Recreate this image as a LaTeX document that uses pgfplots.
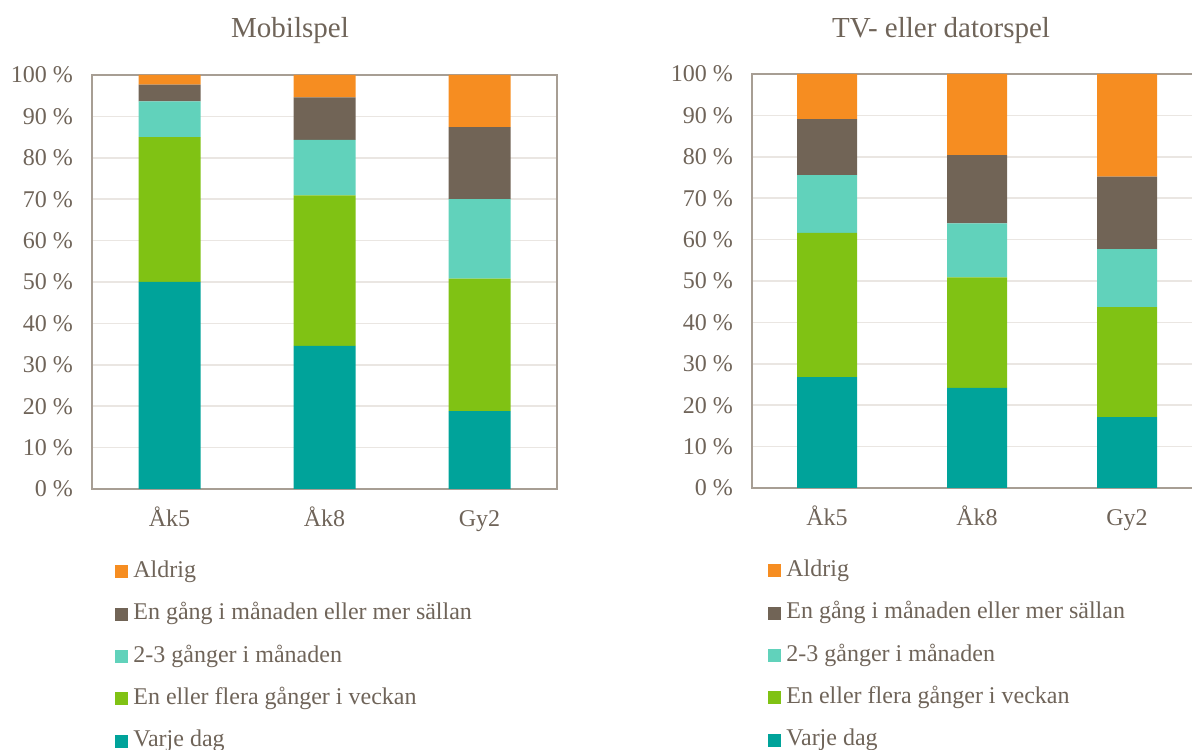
\documentclass[border=0pt]{standalone}
\usepackage{fontspec}
\setmainfont{Liberation Serif}
\usepackage{pgfplots}
\usepackage{pgfplotstable}
\pgfplotsset{compat=1.18}
\definecolor{txt}{HTML}{6F6459}
\definecolor{axc}{HTML}{A79E94}
\definecolor{grd}{HTML}{EAE6E2}
\definecolor{cor}{HTML}{F68D21}
\definecolor{cbr}{HTML}{716456}
\definecolor{clt}{HTML}{61D2BB}
\definecolor{cgr}{HTML}{80C214}
\definecolor{ctl}{HTML}{00A39A}

\pgfplotstableread{
x vd ev gm eg al
0 50.0 35.0 8.6 4.1 2.3
1 34.6 36.3 13.4 10.3 5.4
2 18.8 32.0 19.2 17.4 12.6
}\mobil
\pgfplotstableread{
x vd ev gm eg al
0 26.8 34.8 14.0 13.5 10.9
1 24.2 26.7 13.0 16.5 19.6
2 17.1 26.6 14.0 17.5 24.8
}\tv

\pgfplotsset{mystyle/.style={
  scale only axis, anchor=south west,
  height=207pt,
  ybar stacked, bar width=0.4,
  xmin=-0.5, xmax=2.5, ymin=0, ymax=100,
  enlargelimits=false,
  xtick={0,1,2}, xticklabels={Åk5,Åk8,Gy2},
  ytick={0,10,...,100},
  yticklabel={\pgfmathprintnumber[assume math mode=true]{\tick}\ \%},
  major tick length=0pt,
  ymajorgrids, grid style={grd, line width=0.75pt},
  axis line style={axc, line width=0.75pt},
  tick label style={font=\fontsize{12}{14}\selectfont, text=txt},
  yticklabel style={xshift=-6pt},
  xticklabel style={yshift=-4pt, text height=11pt, text depth=3pt},
  reverse legend,
  legend cell align=left,
  legend image code/.code={\path[#1,draw=none] (0pt,-3.25pt) rectangle (6.5pt,3.25pt);},
  legend style={draw=none, fill=none, inner sep=0pt, at={(rel axis cs:0,0)}, anchor=north west,
    font=\fontsize{12}{14}\selectfont, text=txt,
    nodes={inner sep=0pt, text height=8.5pt, text depth=3pt},
    /tikz/column sep=2.5pt, /tikz/row sep=9.65pt},
  every axis plot/.append style={draw=none},
}}

\begin{document}
\begin{tikzpicture}
\useasboundingbox (0,0) rectangle (596pt,374.5pt);
\node[font=\fontsize{14.5}{17}\selectfont, text=txt] at (145pt,359pt) {Mobilspel};
\node[font=\fontsize{14.5}{17}\selectfont, text=txt] at (470.5pt,359pt) {TV- eller datorspel};

\begin{axis}[mystyle, at={(46pt,130pt)}, width=232.5pt,
  legend style={xshift=11.5pt, yshift=-35.5pt}]
\addplot[fill=ctl] table[x=x,y=vd]{\mobil};
\addplot[fill=cgr] table[x=x,y=ev]{\mobil};
\addplot[fill=clt] table[x=x,y=gm]{\mobil};
\addplot[fill=cbr] table[x=x,y=eg]{\mobil};
\addplot[fill=cor] table[x=x,y=al]{\mobil};
\legend{Varje dag, En eller flera gånger i veckan, 2-3 gånger i månaden, En gång i månaden eller mer sällan, Aldrig}
\end{axis}

\begin{axis}[mystyle, at={(376pt,130.5pt)}, width=225pt,
  legend style={xshift=8pt, yshift=-35.5pt}]
\addplot[fill=ctl] table[x=x,y=vd]{\tv};
\addplot[fill=cgr] table[x=x,y=ev]{\tv};
\addplot[fill=clt] table[x=x,y=gm]{\tv};
\addplot[fill=cbr] table[x=x,y=eg]{\tv};
\addplot[fill=cor] table[x=x,y=al]{\tv};
\legend{Varje dag, En eller flera gånger i veckan, 2-3 gånger i månaden, En gång i månaden eller mer sällan, Aldrig}
\end{axis}
\end{tikzpicture}
\end{document}
